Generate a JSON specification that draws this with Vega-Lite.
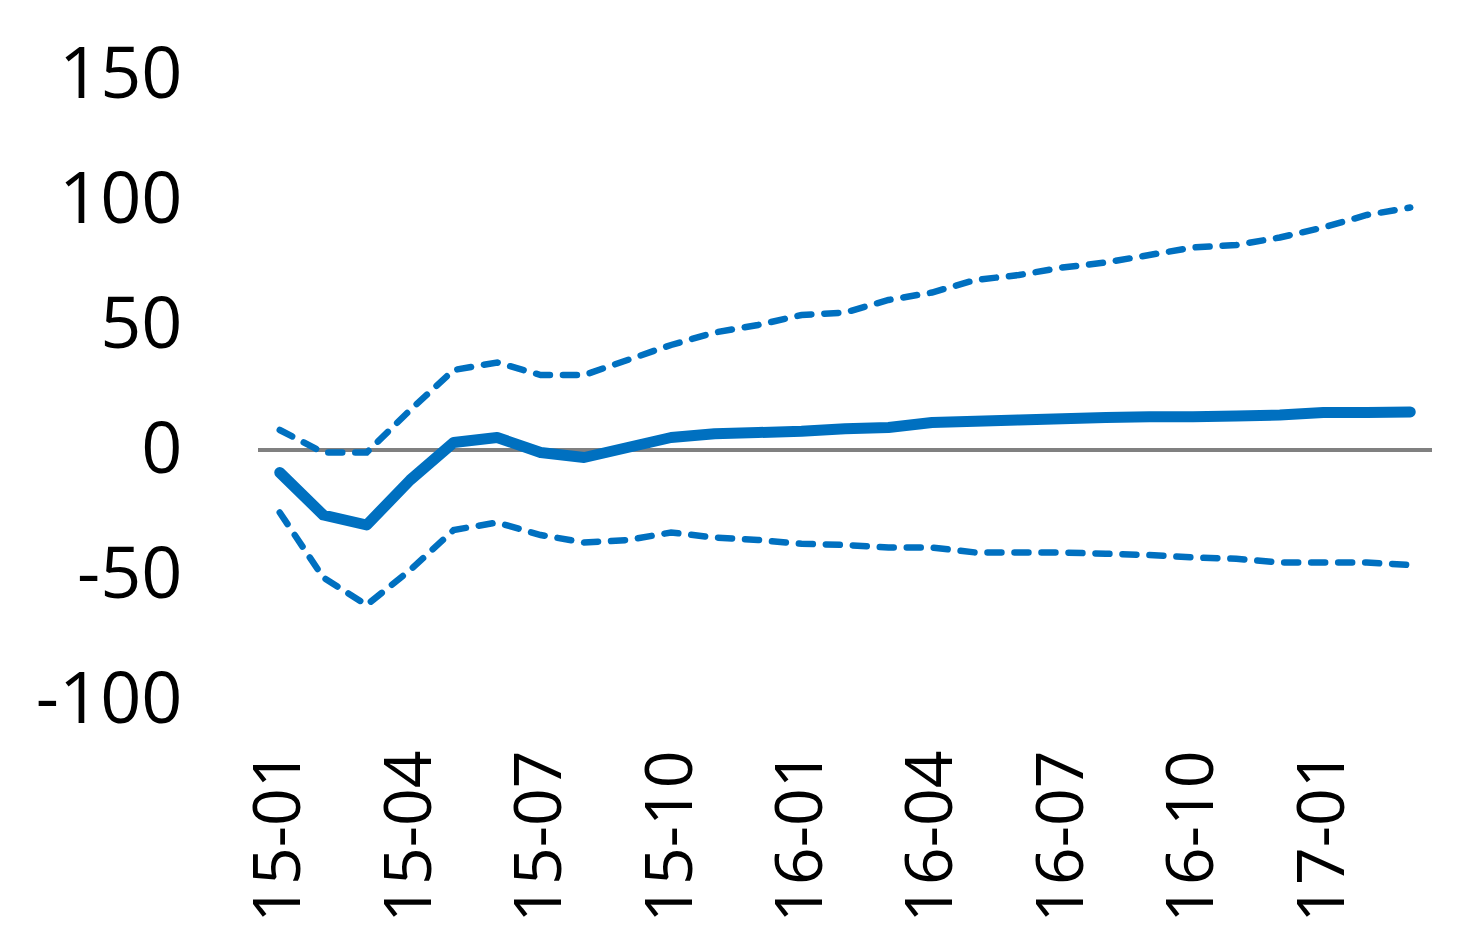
{
  "$schema": "https://vega.github.io/schema/vega-lite/v6.json",
  "width": 1174,
  "height": 625,
  "autosize": "none",
  "padding": {"left": 258, "top": 75, "right": 50, "bottom": 248},
  "background": "white",
  "config": {"view": {"stroke": null}},
  "data": {"values": [
    {"month": "15-01", "est": -9, "upper": 8, "lower": -25},
    {"month": "15-02", "est": -26, "upper": -1, "lower": -51},
    {"month": "15-03", "est": -30, "upper": -1, "lower": -62},
    {"month": "15-04", "est": -12, "upper": 16, "lower": -48},
    {"month": "15-05", "est": 3, "upper": 32, "lower": -32},
    {"month": "15-06", "est": 5, "upper": 35, "lower": -29},
    {"month": "15-07", "est": -1, "upper": 30, "lower": -34},
    {"month": "15-08", "est": -3, "upper": 30, "lower": -37},
    {"month": "15-09", "est": 1, "upper": 36, "lower": -36},
    {"month": "15-10", "est": 5, "upper": 42, "lower": -33},
    {"month": "15-11", "est": 6.5, "upper": 47, "lower": -35},
    {"month": "15-12", "est": 7, "upper": 50, "lower": -36},
    {"month": "16-01", "est": 7.5, "upper": 54, "lower": -37.5},
    {"month": "16-02", "est": 8.5, "upper": 55, "lower": -38},
    {"month": "16-03", "est": 9, "upper": 60, "lower": -39},
    {"month": "16-04", "est": 11, "upper": 63, "lower": -39},
    {"month": "16-05", "est": 11.5, "upper": 68, "lower": -41},
    {"month": "16-06", "est": 12, "upper": 70, "lower": -41},
    {"month": "16-07", "est": 12.5, "upper": 73, "lower": -41},
    {"month": "16-08", "est": 13, "upper": 75, "lower": -41.5},
    {"month": "16-09", "est": 13.3, "upper": 78, "lower": -42},
    {"month": "16-10", "est": 13.3, "upper": 81, "lower": -43},
    {"month": "16-11", "est": 13.6, "upper": 82, "lower": -43.5},
    {"month": "16-12", "est": 14, "upper": 85, "lower": -45},
    {"month": "17-01", "est": 15, "upper": 89, "lower": -45},
    {"month": "17-02", "est": 15, "upper": 94, "lower": -45},
    {"month": "17-03", "est": 15.2, "upper": 97, "lower": -46}
  ]},
  "encoding": {
    "x": {
      "field": "month", "type": "ordinal",
      "scale": {"type": "point", "padding": 0.5},
      "axis": {
        "title": null,
        "values": ["15-01","15-04","15-07","15-10","16-01","16-04","16-07","16-10","17-01"],
        "labelAngle": -90,
        "labelAlign": "right",
        "labelBaseline": "middle",
        "labelPadding": 50,
        "labelFont": "Open Sans",
        "labelFontSize": 66,
        "labelColor": "black",
        "ticks": false,
        "domain": false,
        "grid": false
      }
    }
  },
  "layer": [
    {
      "mark": {"type": "rule", "color": "#808080", "strokeWidth": 3},
      "encoding": {"y": {"datum": 0, "type": "quantitative"}, "x": null}
    },
    {
      "mark": {"type": "line", "color": "#0070C0", "strokeWidth": 6.5, "strokeDash": [14, 13], "strokeCap": "round"},
      "encoding": {"y": {"field": "upper", "type": "quantitative"}}
    },
    {
      "mark": {"type": "line", "color": "#0070C0", "strokeWidth": 6.5, "strokeDash": [14, 13], "strokeCap": "round"},
      "encoding": {"y": {"field": "lower", "type": "quantitative"}}
    },
    {
      "mark": {"type": "line", "color": "#0070C0", "strokeWidth": 11, "strokeCap": "round", "strokeJoin": "round"},
      "encoding": {
        "y": {
          "field": "est", "type": "quantitative",
          "scale": {"domain": [-100, 150], "nice": false},
          "axis": {
            "title": null,
            "values": [-100, -50, 0, 50, 100, 150],
            "labelExpr": "datum.value < 0 ? '-' + abs(datum.value) : '' + datum.value",
            "labelFont": "Open Sans",
            "labelFontSize": 72,
            "labelColor": "black",
            "labelPadding": 76,
            "ticks": false,
            "domain": false,
            "grid": false
          }
        }
      }
    }
  ]
}
